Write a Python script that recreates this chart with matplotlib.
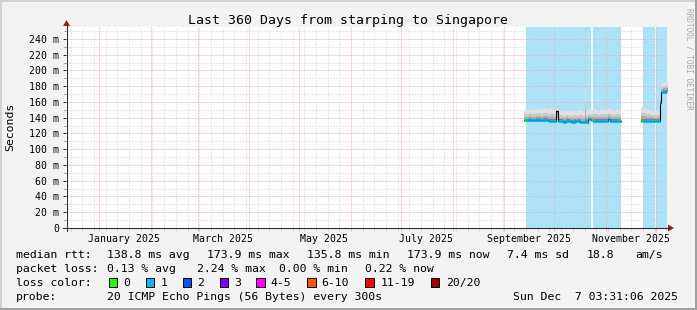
import datetime as dt
import matplotlib
matplotlib.use("Agg")
import matplotlib.pyplot as plt
import matplotlib.dates as mdates
import matplotlib.transforms as mtransforms
from matplotlib.patches import Rectangle, Polygon
from matplotlib.lines import Line2D
from matplotlib.ticker import FixedLocator, FixedFormatter, MultipleLocator, NullFormatter

W, H, DPI = 697, 310, 100
FONT = "DejaVu Sans Mono"

# ---- data -------------------------------------------------------------
end_time = dt.datetime(2025, 12, 7, 3, 31, 6)
start_time = end_time - dt.timedelta(days=360)

month_labels = ["January 2025", "March 2025", "May 2025",
                "July 2025", "September 2025", "November 2025"]
month_label_months = [1, 3, 5, 7, 9, 11]

y_ticks = [0, 20, 40, 60, 80, 100, 120, 140, 160, 180, 200, 220, 240]
y_tick_labels = ["0", "20 m", "40 m", "60 m", "80 m", "100 m", "120 m",
                 "140 m", "160 m", "180 m", "200 m", "220 m", "240 m"]

# daily values in ms, loss = lost pings of 20 (None: no colour drawn)
seg1_start = dt.datetime(2025, 9, 13)
seg1_median = [137, 137, 137, 137, 137, 137, 137, 137, 137, 137, 137, 137, 137, 137, 137,
               136, 136, 136, 136, 148,
               136, 136, 136, 135, 135, 136, 136, 136, 135, 135, 136, 136, 136, 135,
               134, 134, 134, 135, 138, 138, 137]
seg1_high = [149, 150, 150, 151, 150, 149, 150, 151, 152, 151, 150, 151, 152, 151, 150,
             151, 152, 151, 150, 152,
             149, 148, 148, 147, 148, 149, 148, 147, 148, 149, 148, 147, 148, 150,
             149, 148, 178, 150, 149, 148, 149]
seg1_low = [134, 134, 134, 134, 134, 134, 134, 134, 134, 134, 134, 134, 134, 134, 134,
            133, 133, 133, 133, 134,
            133, 133, 133, 132, 132, 133, 133, 133, 132, 132, 133, 133, 133, 132,
            131, 131, 131, 132, 135, 135, 134]
seg1_loss = [0, 1, 1, 1, 1, 1, 1, 1, 1, 1, 1, 1, 1, 1, 1,
             1, 1, 1, 1, None,
             1, 1, 1, 1, 1, 1, 1, 1, 1, 1, 1, 1, 1, 1,
             1, 1, 1, 1, 1, 1, 0]

seg2_start = dt.datetime(2025, 10, 24)
seg2_median = [136, 136, 136, 136, 136, 136, 136, 136, 136, 138, 136, 136, 136, 136, 136, 136, 136]
seg2_high = [150, 151, 150, 149, 150, 151, 150, 149, 150, 152, 151, 150, 149, 150, 151, 150, 149]
seg2_low = [133, 133, 133, 133, 133, 133, 133, 133, 133, 134, 133, 133, 133, 133, 133, 133, 133]
seg2_loss = [1, 1, 1, 1, 1, 1, 1, 1, 1, 1, 1, 1, 1, 1, 1, 1, 1]

seg3_start = dt.datetime(2025, 11, 22)
seg3_median = [136, 136, 136, 136, 136, 136, 136, 136, 136, 136, 136, 159, 173, 173, 173, 173]
seg3_high = [153, 152, 152, 151, 150, 149, 149, 148, 148, 148, 149, 168, 183, 185, 186, 186]
seg3_low = [134, 134, 133, 133, 133, 133, 133, 133, 133, 133, 133, 152, 170, 171, 171, 171]
seg3_loss = [0, 1, 1, 1, 1, 1, 1, 1, 0, 1, 1, 1, 1, 1, 1, 1]

segments = [
    (seg1_start, seg1_median, seg1_low, seg1_high, seg1_loss),
    (seg2_start, seg2_median, seg2_low, seg2_high, seg2_loss),
    (seg3_start, seg3_median, seg3_low, seg3_high, seg3_loss),
]

legend_loss = ["0", "1", "2", "3", "4-5", "6-10", "11-19", "20/20"]
legend_colors = ["#26ff00", "#00b8ff", "#0059ff", "#7e00ff",
                 "#ff00ff", "#ff5500", "#ff0000", "#a10000"]

# ---- style ------------------------------------------------------------
BACK = "#f3f3f3"
BAND = "#aae4fa"
MAJOR_GRID = "#f4b0b0"
MINOR_GRID = "#d0d0d0"
AXIS = "#303030"
ARROW = "#a01c1c"
SMOKE = [(1.0, "#e0e0e0"), (0.6, "#c9c9c9"), (0.35, "#acacac"), (0.15, "#858585")]


def loss_color(n):
    if n == 0:
        return legend_colors[0]
    if n <= 3:
        return legend_colors[n]
    if n <= 5:
        return legend_colors[4]
    if n <= 10:
        return legend_colors[5]
    if n <= 19:
        return legend_colors[6]
    return legend_colors[7]


fig = plt.figure(figsize=(W / DPI, H / DPI), dpi=DPI, facecolor=BACK)
# pixel coordinates, y pointing down
px = mtransforms.Affine2D().scale(1 / W, -1 / H).translate(0, 1) + fig.transFigure

# 3d frame
fig.add_artist(Rectangle((0, 0), W, 2, transform=px, color="#d2d2d2", lw=0))
fig.add_artist(Rectangle((0, 0), 2, H, transform=px, color="#d2d2d2", lw=0))
fig.add_artist(Rectangle((0, H - 2), W, 2, transform=px, color="#a0a0a0", lw=0))
fig.add_artist(Rectangle((W - 2, 0), 2, H, transform=px, color="#a0a0a0", lw=0))

ax = fig.add_axes([66 / W, (H - 228) / H, 600.5 / W, 201 / H])
ax.set_facecolor("white")
for s in ax.spines.values():
    s.set_visible(False)
ax.set_xlim(start_time, end_time)
ax.set_ylim(0, 255.2)

ax.xaxis.set_major_locator(mdates.MonthLocator())
ax.xaxis.set_minor_locator(mdates.WeekdayLocator(byweekday=mdates.SU))
ax.xaxis.set_major_formatter(NullFormatter())
ax.xaxis.set_minor_formatter(NullFormatter())
ax.yaxis.set_major_locator(FixedLocator(y_ticks))
ax.yaxis.set_major_formatter(FixedFormatter(y_tick_labels))
ax.yaxis.set_minor_locator(MultipleLocator(10))

ax.grid(which="minor", color=MINOR_GRID, lw=0.72, ls=(0, (1, 2)))
ax.grid(which="major", color=MAJOR_GRID, lw=0.72, ls=(0, (1, 1)))
ax.set_axisbelow(True)

ax.tick_params(axis="y", which="major", length=2.5, width=0.72, color=AXIS,
               pad=2.5, labelsize=7.1, labelfontfamily=FONT)
ax.tick_params(axis="y", which="minor", length=1.5, width=0.72, color="#909090")
ax.tick_params(axis="x", which="major", length=2, width=0.72, color=MAJOR_GRID)
ax.tick_params(axis="x", which="minor", length=2, width=0.72, color=MINOR_GRID)

# loss background bands, median line and smoke
for start, med, lo, hi, loss in segments:
    n = len(med)
    days = [mdates.date2num(start + dt.timedelta(days=i)) for i in range(n + 1)]

    flags = [l != 0 for l in loss]
    i = 0
    while i < n:
        if flags[i]:
            j = i
            while j + 1 < n and flags[j + 1]:
                j += 1
            ax.axvspan(days[i], days[j + 1], color=BAND, lw=0, zorder=0.2)
            i = j + 1
        else:
            i += 1

    med_e = med + [med[-1]]
    lo_e = lo + [lo[-1]]
    hi_e = hi + [hi[-1]]
    for f, c in SMOKE:
        upper = [m + f * (h - m) for m, h in zip(med_e, hi_e)]
        lower = [m - f * (m - l) for m, l in zip(med_e, lo_e)]
        ax.fill_between(days, lower, upper, step="post", color=c, lw=0, zorder=2)

    ax.step(days, med_e, where="post", color="black", lw=0.8, zorder=3)
    for k in range(n):
        if loss[k] is None:
            continue
        ax.hlines(med[k], days[k], days[k + 1], colors=loss_color(loss[k]),
                  lw=2.2, capstyle="butt", zorder=4)

# axis lines and arrows
fig.add_artist(Line2D([66.5, 66.5], [231, 24], transform=px, color=AXIS, lw=0.8))
fig.add_artist(Line2D([63, 670], [228, 228], transform=px, color=AXIS, lw=0.8))
fig.add_artist(Polygon([(63, 26), (70, 26), (66.5, 20)], closed=True,
                       transform=px, color=ARROW, lw=0))
fig.add_artist(Polygon([(668, 224.5), (668, 231.5), (674, 228)], closed=True,
                       transform=px, color=ARROW, lw=0))

# month labels, centred mid-month
lab_tr = mtransforms.blended_transform_factory(ax.transData, px)
for m, lab in zip(month_label_months, month_labels):
    ax.text(dt.datetime(2025, m, 16), 242, lab, transform=lab_tr, ha="center",
            va="baseline", fontsize=7.1, family=FONT, clip_on=False)

# title, unit, watermark
fig.text(347.5, 24, "Last 360 Days from starping to Singapore", transform=px,
         ha="center", va="baseline", fontsize=9.5, family=FONT)
fig.text(10.5, 127, "Seconds", transform=px, rotation=90, ha="center",
         va="center", fontsize=8.25, family=FONT)
fig.text(688.5, 58.5, "RRDTOOL / TOBI OETIKER", transform=px, rotation=270,
         ha="center", va="center", fontsize=5.6, family=FONT, color="#a8a8a8")

# legend
LEG = 8.25
rows = [
    (258, [(16, "median rtt:"), (107, "138.8 ms avg"), (207, "173.9 ms max"),
           (307, "135.8 ms min"), (407, "173.9 ms now"), (507, "7.4 ms sd"),
           (587, "18.8"), (635, "am/s")]),
    (272, [(16, "packet loss:"), (107, "0.13 % avg"), (197, "2.24 % max"),
           (279, "0.00 % min"), (365, "0.22 % now")]),
    (300, [(16, "probe:"), (107, "20 ICMP Echo Pings (56 Bytes) every 300s"),
           (513, "Sun Dec  7 03:31:06 2025")]),
]
for y, items in rows:
    for x, s in items:
        fig.text(x, y, s, transform=px, ha="left", va="baseline",
                 fontsize=LEG, family=FONT)

fig.text(16, 286, "loss color:", transform=px, ha="left", va="baseline",
         fontsize=LEG, family=FONT)
box_x = [108.5, 145.5, 182.5, 219.5, 256, 307, 365, 430.5]
lab_x = [123.3, 160.7, 197.3, 234.3, 270.7, 321.7, 380.7, 445.7]
for bx, lx, lab, c in zip(box_x, lab_x, legend_loss, legend_colors):
    fig.add_artist(Rectangle((bx, 278), 8.5, 8.5, transform=px, facecolor=c,
                             edgecolor="black", lw=0.7))
    fig.text(lx, 286, lab, transform=px, ha="left", va="baseline",
             fontsize=LEG, family=FONT)

fig.savefig("out.png", dpi=DPI, facecolor=BACK)
